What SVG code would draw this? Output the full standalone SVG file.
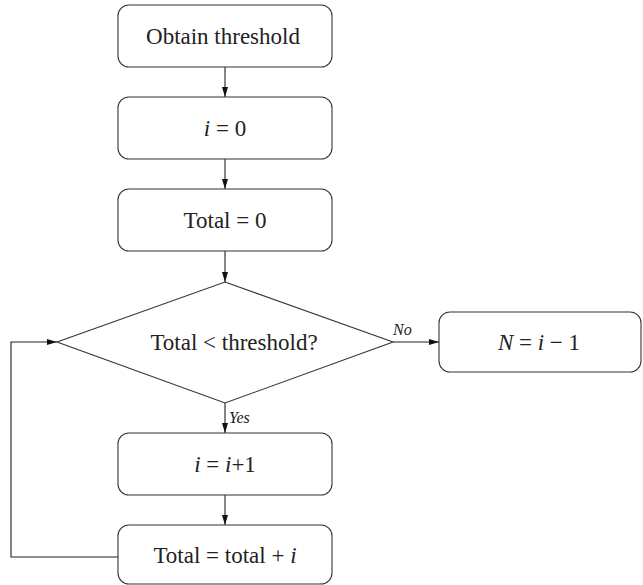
<svg xmlns="http://www.w3.org/2000/svg" width="643" height="585" viewBox="0 0 643 585" font-family="'Liberation Serif', 'DejaVu Serif', serif">
<style>
.box{fill:#fff;stroke:#333;stroke-width:1.1}
.edge{fill:none;stroke:#222;stroke-width:1.1}
text{font-family:'Liberation Serif','DejaVu Serif',serif;font-size:23px;fill:#222;text-anchor:middle}
.lbl{font-size:16px;font-style:italic;text-anchor:start}
.it{font-style:italic}
</style>
<defs>
<marker id="ah" viewBox="0 0 10 6" refX="10" refY="3" markerWidth="10" markerHeight="6" markerUnits="userSpaceOnUse" orient="auto">
<path d="M0,0 L10,3 L0,6 Z" fill="#111"/>
</marker>
</defs>
<g id="connectors">
<line class="edge" x1="225" y1="67" x2="225" y2="97" marker-end="url(#ah)"/>
<line class="edge" x1="225" y1="159" x2="225" y2="189" marker-end="url(#ah)"/>
<line class="edge" x1="225" y1="251" x2="225" y2="282" marker-end="url(#ah)"/>
<line class="edge" x1="393" y1="342" x2="439" y2="342" marker-end="url(#ah)"/>
<line class="edge" x1="225" y1="403" x2="225" y2="433" marker-end="url(#ah)"/>
<line class="edge" x1="225" y1="495" x2="225" y2="525" marker-end="url(#ah)"/>
<polyline class="edge" points="118,557 11,557 11,342 57,342" marker-end="url(#ah)"/>
<text class="lbl" x="393" y="335">No</text>
<text class="lbl" x="229" y="423">Yes</text>
</g>
<g id="obtain">
<rect class="box" x="118" y="5" width="214" height="62" rx="11"/>
<text x="223" y="44">Obtain threshold</text>
</g>
<g id="init-i">
<rect class="box" x="118" y="97" width="214" height="62" rx="11"/>
<text x="225" y="136"><tspan class="it">i</tspan> = 0</text>
</g>
<g id="init-total">
<rect class="box" x="118" y="189" width="214" height="62" rx="11"/>
<text x="225" y="228">Total = 0</text>
</g>
<g id="decision">
<polygon class="box" points="225,282 393,342 225,403 57,342"/>
<text x="234" y="350">Total &lt; threshold?</text>
</g>
<g id="result">
<rect class="box" x="439" y="312" width="202" height="60" rx="11"/>
<text x="539" y="350"><tspan class="it">N</tspan> = <tspan class="it">i</tspan> − 1</text>
</g>
<g id="increment">
<rect class="box" x="118" y="433" width="214" height="62" rx="11"/>
<text x="225" y="472"><tspan class="it">i</tspan> = <tspan class="it">i</tspan>+1</text>
</g>
<g id="accumulate">
<rect class="box" x="118" y="525" width="214" height="59" rx="11"/>
<text x="225" y="563">Total = total + <tspan class="it">i</tspan></text>
</g>
</svg>
